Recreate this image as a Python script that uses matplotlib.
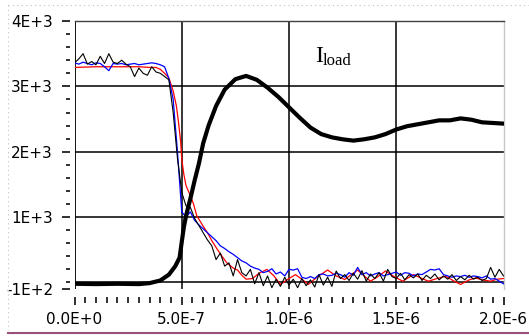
import matplotlib
matplotlib.use('Agg')
import matplotlib.pyplot as plt
from matplotlib.lines import Line2D
import numpy as np

# sample times for the noisy traces (s)
t_noisy = np.arange(101) * 2e-8

# blue trace
blue_vals = [3360, 3340, 3370, 3350, 3330, 3360, 3350, 3300, 3240, 3350,
             3340, 3350, 3330, 3340, 3350, 3330, 3340, 3350, 3360, 3350,
             3330, 3300, 3120, 2800, 2000, 1080, 1000, 1080, 950, 880,
             820, 760, 700, 640, 560, 520, 470, 430, 380, 330,
             300, 250, 220, 200, 150, 170, 210, 130, 160, 100,
             200, 190, 210, 80, 60, 90, 60, 120, 130, 100,
             110, 140, 120, 80, 150, 110, 230, 120, 150, 100,
             130, 150, 100, 120, 140, 160, 110, 150, 140, 100,
             130, 120, 160, 200, 190, 210, 120, 100, 80, 100,
             90, 110, 80, 100, 90, 70, 100, 50, 60, 20, -20]

# thin black trace
black_thin_vals = [3360, 3420, 3500, 3340, 3380, 3330, 3460, 3350, 3500, 3370,
                   3350, 3400, 3340, 3300, 3150, 3280, 3200, 3170, 3300, 3220,
                   3200, 3150, 3100, 2600, 1900, 1380, 1170, 1150, 980, 870,
                   760, 650, 560, 350, 450, 250, 300, 100, 350, 150,
                   100, 200, -20, 150, -50, 100, -80, 50, -60, 80,
                   -40, 50, -80, 60, -50, 40, -70, 120, -40, 80,
                   -60, 175, 60, 120, 30, 140, 50, 180, 20, 130,
                   60, 150, 20, 200, 90, 60, 140, 40, 120, 70,
                   130, 30, 110, 60, 130, 40, 100, 50, 120, 30,
                   90, 40, 110, 50, 80, 30, 60, 230, 80, 200, 100]

# red trace (time in units of 1e-7 s)
red_t = [0, 1, 2, 3, 3.5, 3.8, 4.0, 4.2, 4.4, 4.6, 4.75, 4.85, 4.95, 5.0, 5.1,
         5.2, 5.4, 5.55, 5.7, 6.0, 6.2, 6.4, 6.65, 6.9, 7.1, 7.4, 7.6, 7.8, 8.0,
         8.3, 8.6, 8.97, 9.3, 9.6, 10.0, 10.3, 10.6, 10.9, 11.3, 11.8, 12.2,
         12.6, 12.9, 13.2, 13.5, 13.8, 14.1, 14.5, 14.9, 15.3, 15.8, 16.2, 16.5,
         16.9, 17.3, 17.7, 18.0, 18.4, 18.7, 19.0, 19.4, 19.7, 20.0]
red_vals = [3290, 3300, 3300, 3300, 3290, 3290, 3260, 3200, 3130, 2930, 2700,
            2450, 2150, 1890, 1650, 1480, 1330, 1200, 1020, 860, 760, 640, 510,
            390, 300, 220, 190, 110, 50, 60, 140, 200, 100, -30, 60, 120, 50,
            -30, 80, 190, 100, 45, 120, 190, 100, 20, 80, 175, 90, 20, 120, 60,
            20, 60, 95, 20, -30, 40, 70, 40, 20, 50, 60]

# I_load (thick black), time in units of 1e-7 s
load_t = [0, 1, 2, 3, 3.5, 4.0, 4.4, 4.7, 4.9, 5.0, 5.1, 5.2, 5.4, 5.6, 5.8,
          6.0, 6.25, 6.6, 7.0, 7.5, 8.0, 8.5, 9.0, 9.5, 10.0, 10.5, 11.0, 11.5,
          12.0, 12.5, 13.0, 13.5, 14.0, 14.5, 15.0, 15.5, 16.0, 16.5, 17.0,
          17.5, 18.0, 18.5, 19.0, 19.5, 20.0]
load_vals = [-20, -25, -20, -25, -10, 30, 120, 250, 380, 620, 850, 1020, 1280,
             1560, 1820, 2130, 2400, 2700, 2950, 3110, 3160, 3100, 2980, 2840,
             2680, 2520, 2370, 2270, 2220, 2190, 2170, 2190, 2220, 2270, 2340,
             2390, 2420, 2450, 2480, 2480, 2510, 2490, 2450, 2440, 2430]

x_ticks = [0, 5e-7, 1e-6, 1.5e-6, 2e-6]
x_labels = ['0.0E+0', '5.0E-7', '1.0E-6', '1.5E-6', '2.0E-6']
y_ticks = [-100, 1000, 2000, 3000, 4000]
y_labels = ['-1E+2', '1E+3', '2E+3', '3E+3', '4E+3']

W, H = 529, 336
fig = plt.figure(figsize=(W / 100, H / 100), dpi=100)
ax = fig.add_axes([74.5 / W, (H - 289) / H, (503.5 - 74.5) / W, (289 - 21) / H])

# grid
for gx in [5e-7, 1e-6, 1.5e-6]:
    ax.axvline(gx, color='black', lw=1.1, zorder=1)
for gy in [0, 1000, 2000, 3000]:
    ax.axhline(gy, color='black', lw=1.1, zorder=1)
ax.axvline(0, color='black', lw=1.3, zorder=1)

ax.plot(np.array(red_t) * 1e-7, red_vals, color='#ff0000', lw=0.9, zorder=2)
ax.plot(t_noisy, blue_vals, color='#0000ff', lw=0.9, zorder=3)
ax.plot(t_noisy, black_thin_vals, color='black', lw=0.8, zorder=4)
ax.plot(np.array(load_t) * 1e-7, load_vals, color='black', lw=3.0, zorder=5)

ax.set_xlim(0, 2e-6)
ax.set_ylim(-100, 4000)

ax.set_xticks(x_ticks)
ax.set_xticklabels(x_labels)
ax.set_xticks(np.arange(0, 2.0001e-6, 5e-8), minor=True)
ax.set_yticks(y_ticks)
ax.set_yticklabels(y_labels)
ax.set_yticks([v for v in range(0, 4000, 200) if v % 1000 != 0 or v == 0], minor=True)

ax.spines['left'].set_position(('outward', 3))
ax.spines['left'].set_visible(False)
ax.spines['bottom'].set_position(('outward', 6))
ax.spines['bottom'].set_visible(False)
ax.spines['top'].set_color('#404040')
ax.spines['top'].set_linewidth(1.0)
ax.spines['right'].set_color('#c8c8c8')
ax.spines['right'].set_linewidth(1.0)

ax.tick_params(axis='y', which='major', length=6, width=1.3, pad=6.5,
               labelsize=11, colors='#202020')
ax.tick_params(axis='y', which='minor', length=3.2, width=1.3, colors='#202020')
ax.tick_params(axis='x', which='major', length=5.5, width=1.3, pad=5,
               labelsize=11, colors='#202020')
ax.tick_params(axis='x', which='minor', length=4, width=1.3, colors='#202020')
for lab in ax.get_xticklabels() + ax.get_yticklabels():
    lab.set_color('black')

# I_load label
fig.text(315 / W, (H - 62) / H, 'I', fontsize=17, family='Liberation Serif')
fig.text(323 / W, (H - 65) / H, 'load', fontsize=12, family='Liberation Serif')

# page decorations
fig.add_artist(Line2D([8 / W, 1], [(H - 5) / H] * 2, color='#c0c0c0', lw=0.8,
                      ls=(0, (1, 3)), transform=fig.transFigure))
fig.add_artist(Line2D([8 / W] * 2, [(H - 5) / H, (H - 330) / H], color='#c0c0c0',
                      lw=0.8, ls=(0, (1, 3)), transform=fig.transFigure))
fig.add_artist(Line2D([8 / W, 1], [(H - 333) / H] * 2, color='#9b4f7a', lw=1.5,
                      transform=fig.transFigure))

fig.savefig('out.png', dpi=100)
